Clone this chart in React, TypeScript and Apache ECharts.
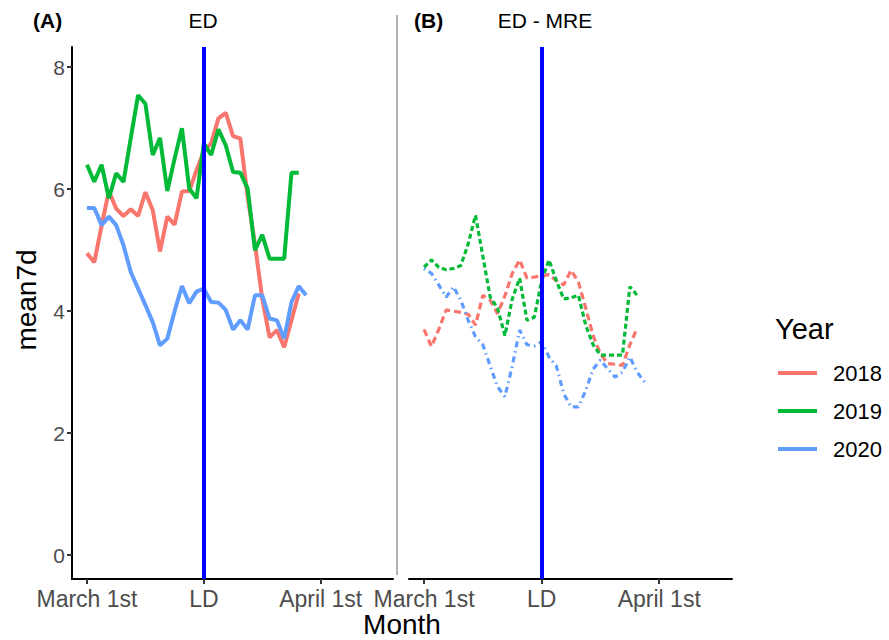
import React, { useEffect, useRef } from "react";
import * as echarts from "echarts";

// ---- data ----
const years = ["2018", "2019", "2020"];
const yearColors = ["#F8766D", "#00BA38", "#619CFF"];
const xTickValues = [0, 16, 32];
const xTickLabels = ["March 1st", "LD", "April 1st"];
const yTickValues = [0, 2, 4, 6, 8];
const ldDay = 16;
const panelTitles = ["ED", "ED - MRE"];
const panelTags = ["(A)", "(B)"];

// Panel A: ED (index = day since March 1st)
const ed2018 = [4.95, 4.8, 5.4, 5.97, 5.68, 5.56, 5.67, 5.56, 5.95, 5.66, 4.98, 5.55, 5.42, 5.96, 5.97, 6.31, 6.62, 6.75, 7.16, 7.25, 6.87, 6.83, 5.87, 5.1, 4.2, 3.57, 3.69, 3.41, 3.85, 4.29];
const ed2019 = [6.4, 6.12, 6.4, 5.85, 6.26, 6.12, 6.84, 7.54, 7.4, 6.56, 6.84, 5.97, 6.5, 7.0, 6.01, 5.85, 6.75, 6.56, 6.98, 6.72, 6.28, 6.27, 6.01, 5.0, 5.25, 4.86, 4.86, 4.86, 6.27, 6.27];
const ed2020 = [5.69, 5.69, 5.41, 5.55, 5.41, 5.08, 4.64, 4.37, 4.1, 3.82, 3.44, 3.55, 4.0, 4.41, 4.13, 4.32, 4.37, 4.15, 4.14, 4.02, 3.7, 3.85, 3.7, 4.26, 4.26, 3.88, 3.85, 3.55, 4.15, 4.41, 4.26];

// Panel B: ED - MRE
const mre2018 = [3.7, 3.42, 3.7, 4.02, 4.0, 3.98, 3.95, 3.77, 4.26, 4.18, 3.96, 4.25, 4.62, 4.84, 4.54, 4.56, 4.58, 4.6, 4.5, 4.43, 4.67, 4.48, 4.05, 3.6, 3.3, 3.14, 3.13, 3.11, 3.45, 3.72];
const mre2019 = [4.72, 4.84, 4.72, 4.68, 4.7, 4.75, 5.1, 5.57, 4.9, 4.23, 4.05, 3.6, 4.2, 4.54, 3.85, 3.9, 4.5, 4.84, 4.5, 4.2, 4.22, 4.26, 3.77, 3.45, 3.28, 3.28, 3.28, 3.28, 4.4, 4.26];
const mre2020 = [4.7, 4.62, 4.43, 4.23, 4.4, 4.18, 3.85, 3.58, 3.45, 3.1, 2.76, 2.6, 3.1, 3.69, 3.45, 3.43, 3.5, 3.25, 3.1, 2.65, 2.43, 2.43, 2.7, 3.05, 3.2, 3.05, 2.92, 3.0, 3.25, 3.0, 2.84];

const panelA = [ed2018, ed2019, ed2020];
const panelB = [mre2018, mre2019, mre2020];
const dashB: number[][] = [
  [7, 4],
  [5, 3],
  [1.5, 4, 6, 4],
];

const FONT = "'Liberation Sans', Arial, sans-serif";

export default function App() {
  const ref = useRef<HTMLDivElement>(null);
  useEffect(() => {
    const chart = echarts.init(ref.current!, null, { renderer: "svg" });

    const xAxisBase = (gridIndex: number) => ({
      type: "value",
      gridIndex,
      min: -2.05,
      max: 41.9,
      splitLine: { show: false },
      axisLine: { show: true, onZero: false, lineStyle: { color: "#000", width: 2 } },
      axisTick: {
        show: true,
        customValues: xTickValues,
        length: 5,
        lineStyle: { color: "#333", width: 2 },
      },
      axisLabel: {
        show: true,
        customValues: xTickValues,
        formatter: (v: number) => xTickLabels[xTickValues.indexOf(v)] ?? "",
        color: "#4D4D4D",
        fontSize: 23,
        fontFamily: FONT,
        margin: 8,
      },
    });

    const yAxisBase = (gridIndex: number, visible: boolean) => ({
      type: "value",
      gridIndex,
      min: -0.39,
      max: 8.33,
      show: visible,
      splitLine: { show: false },
      axisLine: { show: true, onZero: false, lineStyle: { color: "#000", width: 2 } },
      axisTick: {
        show: true,
        customValues: yTickValues,
        length: 5,
        lineStyle: { color: "#333", width: 2 },
      },
      axisLabel: {
        show: true,
        customValues: yTickValues,
        color: "#4D4D4D",
        fontSize: 21,
        fontFamily: FONT,
        margin: 7,
      },
    });

    const series: any[] = [];
    panelA.forEach((vals, k) => {
      series.push({
        type: "line",
        name: years[k],
        xAxisIndex: 0,
        yAxisIndex: 0,
        data: vals.map((v, i) => [i, v]),
        symbol: "none",
        lineStyle: { color: yearColors[k], width: 4 },
        itemStyle: { color: yearColors[k] },
        z: 2,
      });
    });
    panelB.forEach((vals, k) => {
      series.push({
        type: "line",
        name: years[k],
        xAxisIndex: 1,
        yAxisIndex: 1,
        data: vals.map((v, i) => [i, v]),
        symbol: "none",
        lineStyle: { color: yearColors[k], width: 3.2, type: dashB[k], cap: "butt" },
        itemStyle: { color: yearColors[k] },
        z: 2,
      });
    });
    [0, 1].forEach((g) => {
      series.push({
        type: "line",
        xAxisIndex: g,
        yAxisIndex: g,
        data: [],
        z: 5,
        markLine: {
          silent: true,
          symbol: ["none", "none"],
          label: { show: false },
          lineStyle: { color: "#0000FF", width: 4, type: "solid" },
          data: [{ xAxis: ldDay }],
        },
      });
    });

    const legendX = 778;
    const legendY0 = 373;
    const legendStep = 38;
    const legendGraphics: any[] = [
      {
        type: "text",
        left: 775,
        top: 314,
        style: { text: "Year", fontSize: 29, fontFamily: FONT, fill: "#000" },
      },
    ];
    years.forEach((y, k) => {
      legendGraphics.push({
        type: "line",
        shape: { x1: legendX, y1: legendY0 + k * legendStep, x2: legendX + 39, y2: legendY0 + k * legendStep },
        style: { stroke: yearColors[k], lineWidth: 4 },
      });
      legendGraphics.push({
        type: "text",
        x: 833,
        y: legendY0 + k * legendStep,
        style: { text: y, fontSize: 22, fontFamily: FONT, fill: "#000", verticalAlign: "middle" },
      });
    });

    const option: any = {
      animation: false,
      backgroundColor: "#fff",
      grid: [
        { left: 72, top: 47, width: 321, height: 532 },
        { left: 409, top: 47, width: 323, height: 532 },
      ],
      xAxis: [xAxisBase(0), xAxisBase(1)],
      yAxis: [yAxisBase(0, true), yAxisBase(1, false)],
      series,
      graphic: [
        {
          type: "line",
          shape: { x1: 397, y1: 15, x2: 397, y2: 575 },
          style: { stroke: "#666", lineWidth: 1 },
        },
        {
          type: "text",
          x: 33,
          y: 20,
          style: { text: panelTags[0], fontSize: 21, fontWeight: "bold", fontFamily: FONT, fill: "#000", verticalAlign: "middle" },
        },
        {
          type: "text",
          x: 203,
          y: 20,
          style: { text: panelTitles[0], fontSize: 21, fontFamily: FONT, fill: "#000", align: "center", verticalAlign: "middle" },
        },
        {
          type: "text",
          x: 414,
          y: 20,
          style: { text: panelTags[1], fontSize: 21, fontWeight: "bold", fontFamily: FONT, fill: "#000", verticalAlign: "middle" },
        },
        {
          type: "text",
          x: 545,
          y: 20,
          style: { text: panelTitles[1], fontSize: 21, fontFamily: FONT, fill: "#000", align: "center", verticalAlign: "middle" },
        },
        {
          type: "text",
          x: 26,
          y: 300,
          rotation: Math.PI / 2,
          style: { text: "mean7d", fontSize: 28, fontFamily: FONT, fill: "#000", align: "center", verticalAlign: "middle" },
        },
        {
          type: "text",
          x: 402,
          y: 624,
          style: { text: "Month", fontSize: 28, fontFamily: FONT, fill: "#000", align: "center", verticalAlign: "middle" },
        },
        ...legendGraphics,
      ],
    };
    chart.setOption(option);
    return () => chart.dispose();
  }, []);
  return <div ref={ref} style={{ position: "absolute", left: 0, top: 0, width: 889, height: 640 }} />;
}
